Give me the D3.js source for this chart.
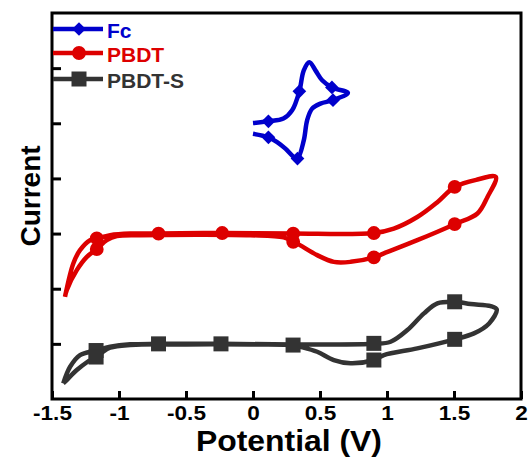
<!DOCTYPE html>
<html>
<head>
<meta charset="utf-8">
<script src="https://cdn.jsdelivr.net/npm/d3@7"></script>
<style>
body { margin: 0; background: #fff; }
svg { display: block; font-family: "Liberation Sans", Arial, sans-serif; font-weight: bold; }
</style>
</head>
<body>
<svg id="chart" width="528" height="464"></svg>
<script>
// series: [potential (V), current (a.u.)]
const fcCurve = [
  [0.0, 5.005], [0.115, 5.036], [0.227, 5.085], [0.292, 5.235], [0.346, 5.58],
  [0.379, 5.96], [0.421, 6.105], [0.466, 5.96], [0.516, 5.78], [0.589, 5.65],
  [0.708, 5.55], [0.597, 5.42], [0.503, 5.357], [0.441, 5.266], [0.404, 5.054],
  [0.379, 4.69], [0.332, 4.36], [0.304, 4.39], [0.242, 4.54], [0.18, 4.66],
  [0.115, 4.746], [0.0, 4.81]
];
const fcMarks = [[0.115, 5.036], [0.346, 5.58], [0.589, 5.65], [0.597, 5.42], [0.332, 4.36], [0.115, 4.746]];

const pbdtCurve = [
  [-1.403, 1.853], [-1.341, 2.458], [-1.291, 2.699], [-1.216, 2.88], [-1.166, 2.911],
  [-1.066, 2.971], [-0.917, 3.0], [-0.705, 3.0], [-0.23, 3.01], [0.3, 3.0],
  [0.902, 3.01], [1.051, 3.09], [1.226, 3.3], [1.376, 3.57], [1.505, 3.846],
  [1.675, 3.98], [1.812, 4.027], [1.75, 3.665], [1.675, 3.364], [1.505, 3.17],
  [1.226, 2.88], [0.977, 2.64], [0.902, 2.567], [0.728, 2.487], [0.603, 2.487],
  [0.479, 2.609], [0.329, 2.821], [0.3, 2.85], [0.229, 2.93], [-0.02, 2.97],
  [-0.394, 2.98], [-0.842, 2.97], [-1.016, 2.953], [-1.091, 2.88], [-1.166, 2.717],
  [-1.24, 2.578], [-1.315, 2.337], [-1.39, 1.975], [-1.403, 1.853]
];
const pbdtMarks = [[-1.166, 2.911], [-1.166, 2.717], [-0.705, 3.0], [-0.23, 3.01], [0.3, 3.0],
  [0.3, 2.85], [0.902, 3.01], [0.902, 2.567], [1.505, 3.846], [1.505, 3.17]];

const pbdtsCurve = [
  [-1.416, 0.284], [-1.365, 0.585], [-1.291, 0.797], [-1.171, 0.879], [-1.066, 0.947],
  [-0.917, 0.991], [-0.705, 1.0], [-0.239, 1.0], [0.299, 0.99], [0.902, 1.0],
  [1.027, 1.038], [1.152, 1.25], [1.276, 1.553], [1.376, 1.734], [1.505, 1.763],
  [1.625, 1.721], [1.774, 1.685], [1.819, 1.625], [1.762, 1.371], [1.649, 1.19],
  [1.505, 1.082], [1.226, 0.918], [0.977, 0.797], [0.902, 0.707], [0.728, 0.647],
  [0.603, 0.707], [0.479, 0.857], [0.354, 0.947], [0.299, 0.978], [-0.02, 0.99],
  [-0.5, 0.99], [-0.917, 0.98], [-1.066, 0.93], [-1.141, 0.82], [-1.216, 0.707],
  [-1.315, 0.525], [-1.39, 0.344], [-1.416, 0.284]
];
const pbdtsMarks = [[-1.171, 0.879], [-1.171, 0.761], [-0.705, 1.0], [-0.239, 1.0], [0.299, 0.978],
  [0.902, 1.009], [0.902, 0.707], [1.505, 1.763], [1.505, 1.082]];

const xTicks = [-1.5, -1, -0.5, 0, 0.5, 1, 1.5, 2];
const yTicks = [1, 2, 3, 4, 5, 6];
const seriesNames = ["Fc", "PBDT", "PBDT-S"];
const seriesColors = ["#0000cc", "#dd0000", "#333333"];

const svg = d3.select("#chart");
const x = d3.scaleLinear().domain([-1.5, 2]).range([52, 521]);
const y = d3.scaleLinear().domain([0, 7]).range([399, 13]);

// axes, ticks point inward
const xAxis = svg.append("g")
  .attr("transform", "translate(0,399)")
  .call(d3.axisBottom(x).tickValues(xTicks).tickSizeInner(-8).tickSizeOuter(0).tickPadding(7).tickFormat(d => String(d)));
xAxis.select(".domain").remove();
xAxis.selectAll("line").attr("stroke", "#000").attr("stroke-width", 3);
xAxis.selectAll("text")
  .attr("fill", "#000")
  .style("font-size", "20px")
  .style("font-weight", "bold")
  .attr("transform", "scale(1.13,1)");

const yAxis = svg.append("g")
  .attr("transform", "translate(52,0)")
  .call(d3.axisLeft(y).tickValues(yTicks).tickSizeInner(-9).tickSizeOuter(0).tickFormat(""));
yAxis.select(".domain").remove();
yAxis.selectAll("line").attr("stroke", "#000").attr("stroke-width", 3);

svg.append("rect")
  .attr("x", x(-1.5)).attr("y", y(7))
  .attr("width", x(2) - x(-1.5)).attr("height", y(0) - y(7))
  .attr("fill", "none").attr("stroke", "#000").attr("stroke-width", 3);

const line = d3.line()
  .x(d => x(d[0]))
  .y(d => y(d[1]))
  .curve(d3.curveCatmullRom.alpha(0.5));

const curves = [fcCurve, pbdtCurve, pbdtsCurve];
const marks = [fcMarks, pbdtMarks, pbdtsMarks];

const diamond = d3.symbol().type(d3.symbolDiamond2).size(120);
const circle = d3.symbol().type(d3.symbolCircle).size(150);
const square = d3.symbol().type(d3.symbolSquare).size(225);
const shapes = [diamond, circle, square];

curves.forEach((c, i) => {
  svg.append("path")
    .attr("d", line(c))
    .attr("fill", "none")
    .attr("stroke", seriesColors[i])
    .attr("stroke-width", 4.5)
    .attr("stroke-linejoin", "round");
  svg.append("g").selectAll("path")
    .data(marks[i])
    .join("path")
    .attr("transform", d => `translate(${x(d[0])},${y(d[1])})`)
    .attr("d", shapes[i]())
    .attr("fill", seriesColors[i]);
});

// legend
const legY = [29, 53, 79];
const leg = svg.append("g");
seriesNames.forEach((name, i) => {
  leg.append("line")
    .attr("x1", 53).attr("x2", 103)
    .attr("y1", legY[i]).attr("y2", legY[i])
    .attr("stroke", seriesColors[i]).attr("stroke-width", 4.5);
  leg.append("path")
    .attr("transform", `translate(79,${legY[i]})`)
    .attr("d", shapes[i]())
    .attr("fill", seriesColors[i]);
  leg.append("text")
    .attr("x", 107).attr("y", legY[i] + 2)
    .attr("dy", "0.35em")
    .attr("fill", seriesColors[i])
    .style("font-size", "21px")
    .text(name);
});

// axis titles
svg.append("text")
  .attr("transform", "translate(289,451) scale(1.1,1)")
  .attr("text-anchor", "middle")
  .style("font-size", "29px")
  .text("Potential (V)");

svg.append("text")
  .attr("transform", "translate(40,196) rotate(-90)")
  .attr("text-anchor", "middle")
  .style("font-size", "28px")
  .text("Current");
</script>
</body>
</html>
